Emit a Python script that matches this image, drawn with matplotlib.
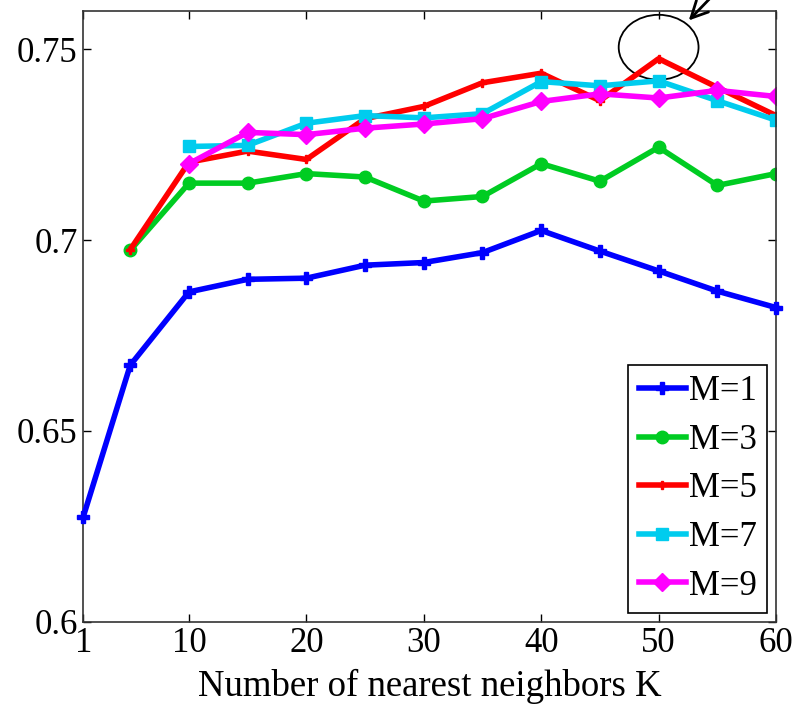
import matplotlib
matplotlib.use("Agg")
import matplotlib.pyplot as plt
from matplotlib.patches import Ellipse

plt.rcParams['font.family'] = ['Liberation Serif', 'DejaVu Serif']

k_m1 = [1, 5, 10, 15, 20, 25, 30, 35, 40, 45, 50, 55, 60]
acc_m1 = [0.6275, 0.6672, 0.6864, 0.6897, 0.6900, 0.6934, 0.6941, 0.6967,
          0.7025, 0.6971, 0.6919, 0.6866, 0.6823]

k_m35 = [5, 10, 15, 20, 25, 30, 35, 40, 45, 50, 55, 60]
acc_m3 = [0.6973, 0.7149, 0.7149, 0.7174, 0.7165, 0.7102, 0.7114, 0.7200,
          0.7154, 0.7243, 0.7143, 0.7174]
acc_m5 = [0.6975, 0.7204, 0.7233, 0.7211, 0.7318, 0.7350, 0.7412, 0.7437,
          0.7365, 0.7475, 0.7400, 0.7326]

k_m79 = [10, 15, 20, 25, 30, 35, 40, 45, 50, 55, 60]
acc_m7 = [0.7245, 0.7248, 0.7306, 0.7326, 0.7320, 0.7331, 0.7415, 0.7404,
          0.7417, 0.7365, 0.7314]
acc_m9 = [0.7200, 0.7282, 0.7276, 0.7293, 0.7304, 0.7318, 0.7363, 0.7383,
          0.7372, 0.7392, 0.7376]

x_ticks = [1, 10, 20, 30, 40, 50, 60]
y_ticks = [0.6, 0.65, 0.7, 0.75]
y_labels = ['0.6', '0.65', '0.7', '0.75']

fig = plt.figure(figsize=(7.97, 7.10), dpi=100)
ax = fig.add_axes([0.1045, 0.1244, 0.8692, 0.8601])

lw = 4
ax.plot(k_m1, acc_m1, color='#0000ff', lw=lw, marker='P', ms=8, label='M=1',
        clip_on=False, zorder=3)
ax.plot(k_m35, acc_m3, color='#00cc22', lw=lw, marker='o', ms=9, label='M=3')
ax.plot(k_m35, acc_m5, color='#ff0000', lw=lw, marker='P', ms=6, label='M=5')
ax.plot(k_m79, acc_m7, color='#00ccee', lw=lw, marker='s', ms=9, label='M=7')
ax.plot(k_m79, acc_m9, color='#ff00ff', lw=lw, marker='D', ms=9, label='M=9')

# highlight the best value
ax.add_patch(Ellipse((50.0, 0.7505), width=6.8, height=0.017, fill=False,
                     color='black', lw=1.3))
ax.annotate('', xy=(52.4, 0.7570), xytext=(56.0, 0.7685),
            arrowprops=dict(arrowstyle='->', color='black', lw=2,
                            mutation_scale=30),
            annotation_clip=False)

ax.set_xlim(1, 60)
ax.set_ylim(0.6, 0.76)
ax.set_xticks(x_ticks)
ax.set_yticks(y_ticks)
ax.set_yticklabels(y_labels)
ax.tick_params(direction='in', top=True, right=True, length=6, width=1,
               labelsize=25, pad=4)
for s in ax.spines.values():
    s.set_linewidth(1.2)
    s.set_color('#333333')

ax.set_xlabel('Number of nearest neighbors K', fontsize=26.5, labelpad=6)

leg = ax.legend(loc='lower right', fontsize=25, fancybox=False,
                edgecolor='black', framealpha=1, borderaxespad=0.25,
                labelspacing=0.45, handlelength=1.35, handletextpad=0.1,
                borderpad=0.3)
leg.get_frame().set_linewidth(1.2)

fig.savefig('out.png', dpi=100)
